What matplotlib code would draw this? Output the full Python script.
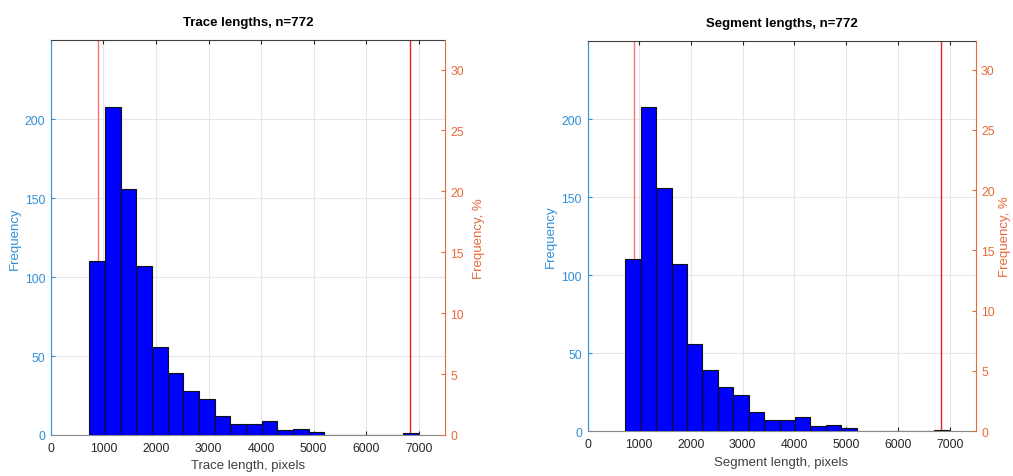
import numpy as np
import matplotlib
matplotlib.use('Agg')
import matplotlib.pyplot as plt

plt.rcParams['font.family'] = ['Liberation Sans', 'DejaVu Sans']

# histogram data (same for both panels)
bin_edges = [730 + 298.1 * k for k in range(22)]
counts = [110, 208, 156, 107, 56, 39, 28, 23, 12, 7, 7, 9, 3, 4, 2, 0, 0, 0, 0, 0, 1]
n_total = 772
limit_lines = [889, 6825]

titles = ['Trace lengths, n=772', 'Segment lengths, n=772']
xlabels = ['Trace length, pixels', 'Segment length, pixels']
positions = [[0.0503, 0.086, 0.389, 0.827], [0.580, 0.094, 0.383, 0.818]]
right_pads = [6, 3]

blue_c = '#2f8fd6'
orange_c = '#e8693a'
grid_c = '#e4e6ec'

fig = plt.figure(figsize=(10.13, 4.77), dpi=100)

for pos, title, xlab, rpad in zip(positions, titles, xlabels, right_pads):
    ax = fig.add_axes(pos)
    ax.axvline(limit_lines[0], color='#ff7070', linewidth=1.0, zorder=2)
    ax.axvline(limit_lines[1], color='#e52020', linewidth=1.0, zorder=2)
    ax.hist(bin_edges[:-1], bins=bin_edges, weights=counts,
            color='#0000ff', edgecolor='#111111', linewidth=0.8, zorder=3)
    ax.set_xlim(0, 7500)
    ax.set_ylim(0, 250)
    ax.set_xticks(range(0, 7001, 1000))
    ax.set_yticks(range(0, 201, 50))
    ax.grid(True, color=grid_c, linewidth=0.8, zorder=0)
    ax.set_axisbelow(True)
    ax.tick_params(axis='x', direction='in', length=3, labelsize=8.8,
                   colors='#262626', top=True, pad=5)
    ax.tick_params(axis='y', direction='in', length=3, labelsize=8.8,
                   colors=blue_c, right=False, pad=4)
    ax.spines['left'].set_color(blue_c)
    ax.spines['bottom'].set_color('#8a8a8a')
    ax.spines['top'].set_color('#404040')
    ax.spines['right'].set_visible(False)
    for sp in ax.spines.values():
        sp.set_linewidth(0.8)
    ax.set_ylabel('Frequency', color=blue_c, fontsize=9.5, labelpad=3)
    ax.set_xlabel(xlab, color='#404040', fontsize=9.5, labelpad=4)
    ax.set_title(title, fontsize=9.5, fontweight='bold', pad=11)

    ax2 = ax.twinx()
    ax2.set_ylim(0, 250 / n_total * 100)
    ax2.set_yticks(range(0, 31, 5))
    ax2.tick_params(axis='y', direction='in', length=3, labelsize=8.8,
                    colors=orange_c, pad=4)
    ax2.spines['right'].set_color(orange_c)
    ax2.spines['right'].set_linewidth(0.8)
    for s in ['left', 'top', 'bottom']:
        ax2.spines[s].set_visible(False)
    ax2.set_ylabel('Frequency, %', color=orange_c, fontsize=9.5, labelpad=rpad)

plt.savefig('out.png', dpi=100)
